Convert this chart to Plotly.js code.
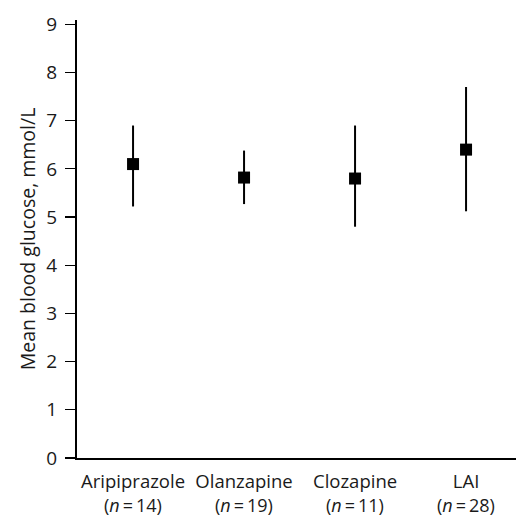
<!DOCTYPE html>
<html>
<head>
<meta charset="utf-8">
<script src="https://cdn.plot.ly/plotly-3.0.1.min.js"></script>
<style>html,body{margin:0;padding:0;background:#fff;}#chart{width:518px;height:518px;}</style>
</head>
<body>
<div id="chart"></div>
<script>
var categories = ["Aripiprazole", "Olanzapine", "Clozapine", "LAI"];
var nCounts = [14, 19, 11, 28];
var meanGlucose = [6.1, 5.82, 5.8, 6.4];
var upperGlucose = [6.9, 6.38, 6.9, 7.7];
var lowerGlucose = [5.22, 5.27, 4.8, 5.12];
var yTicks = [0, 1, 2, 3, 4, 5, 6, 7, 8, 9];

var xIdx = categories.map(function(c, i){ return i; });

var trace = {
  type: "scatter",
  mode: "markers",
  x: xIdx,
  y: meanGlucose,
  marker: {symbol: "square", size: 12, color: "#000"},
  error_y: {
    type: "data",
    symmetric: false,
    array: upperGlucose.map(function(u, i){ return u - meanGlucose[i]; }),
    arrayminus: meanGlucose.map(function(m, i){ return m - lowerGlucose[i]; }),
    color: "#000",
    thickness: 2,
    width: 0
  },
  hoverinfo: "none",
  showlegend: false
};

var nAnnotations = xIdx.map(function(i){
  return {
    x: i, xref: "x", y: 0, yref: "paper",
    xanchor: "center", yanchor: "top", yshift: -34, borderpad: 0,
    text: "(<i>n</i>\u2009=\u2009" + nCounts[i] + ")",
    showarrow: false,
    font: {size: 18, color: "#1a1a1a"}
  };
});

var layout = {
  width: 518, height: 518,
  margin: {l: 77, r: 2, t: 20, b: 60},
  paper_bgcolor: "#fff", plot_bgcolor: "#fff",
  font: {family: "Open Sans, Noto Sans, sans-serif", size: 19, color: "#1a1a1a", weight: 400},
  xaxis: {
    range: [-0.505, 3.45],
    tickvals: xIdx,
    ticktext: categories,
    ticks: "",
    ticklabelstandoff: 6,
    showgrid: false, zeroline: false,
    showline: true, linecolor: "#000", linewidth: 2,
    tickfont: {size: 18.5}
  },
  yaxis: {
    range: [0, 9.09],
    tickvals: yTicks,
    ticktext: yTicks.map(String),
    ticks: "outside", ticklen: 10, tickwidth: 1.2, tickcolor: "#000",
    ticklabelstandoff: 4,
    showgrid: false, zeroline: false,
    showline: true, linecolor: "#000", linewidth: 2,
    tickfont: {size: 19},
    title: {text: "Mean blood glucose, mmol/L", font: {size: 19.5}, standoff: 6}
  },
  annotations: nAnnotations
};

Plotly.newPlot("chart", [trace], layout, {displayModeBar: false, staticPlot: true});
</script>
</body>
</html>
